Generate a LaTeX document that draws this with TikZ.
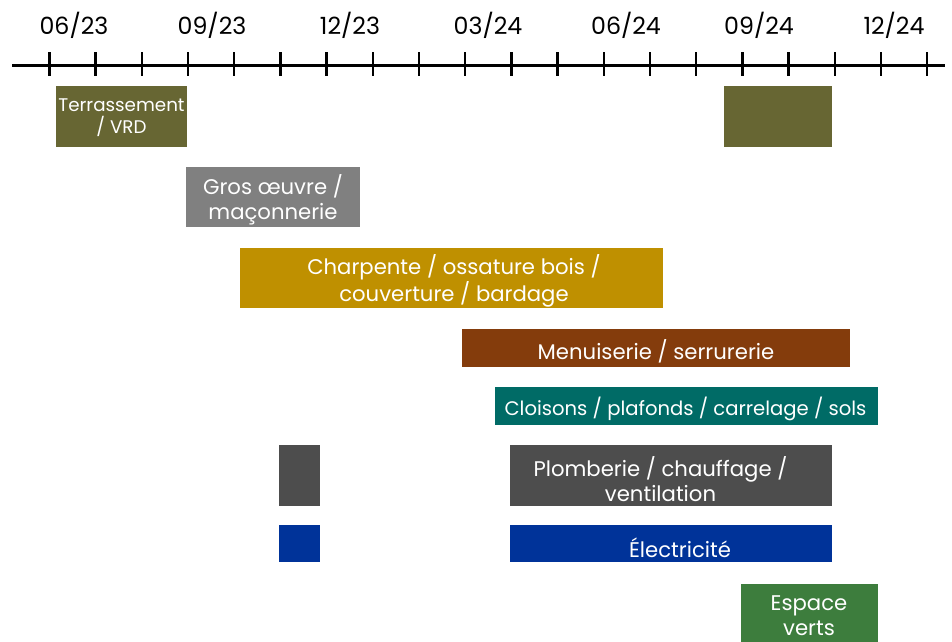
\documentclass[tikz,border=0pt]{standalone}
\usepackage{fontspec}
\setmainfont{Poppins}
\definecolor{olivec}{HTML}{676633}
\definecolor{grayc}{HTML}{808080}
\definecolor{goldc}{HTML}{BF9000}
\definecolor{brownc}{HTML}{843C0C}
\definecolor{tealc}{HTML}{006B66}
\definecolor{dgrayc}{HTML}{4D4D4D}
\definecolor{bluec}{HTML}{003399}
\definecolor{greenc}{HTML}{3D7D3D}
\begin{document}
\begin{tikzpicture}[x=1pt,y=-1pt,
  bar/.style={rectangle, inner sep=0pt, outer sep=0pt, draw=none, anchor=north west},
  lbl/.style={text=white, align=center, inner sep=0pt, font=\fontsize{21.2}{25}\selectfont},
  slbl/.style={text=white, align=center, inner sep=0pt, font=\fontsize{18.3}{22}\selectfont},
  axlbl/.style={text=black, inner sep=0pt, font=\fontsize{23.7}{26}\selectfont},
  tick/.style={line width=2.4pt, black}]
\useasboundingbox (0,0) rectangle (952,641);
\clip (0,0) rectangle (952,641);
% axis
\coordinate (axL) at (12,65);
\coordinate (axR) at (945,65);
\draw[line width=3pt] (axL) -- (axR);
\foreach \i in {0,...,19}{
  \coordinate (ta\i) at ({49.3+46.2*\i},52);
  \coordinate (tb\i) at ({49.3+46.2*\i},76);
  \draw[tick] (ta\i) -- (tb\i);
}
\node[axlbl] (m1) at (74,25) {06/23};
\node[axlbl] (m2) at (212,25) {09/23};
\node[axlbl] (m3) at (350,25) {12/23};
\node[axlbl] (m4) at (488,25) {03/24};
\node[axlbl] (m5) at (626,25) {06/24};
\node[axlbl] (m6) at (759,25) {09/24};
\node[axlbl] (m7) at (894,25) {12/24};
% bars
\node[bar, fill=olivec, minimum width=131pt, minimum height=61pt] (b1) at (56,86) {};
\node[bar, fill=olivec, minimum width=108pt, minimum height=61pt] (b1b) at (724,86) {};
\node[bar, fill=grayc, minimum width=174pt, minimum height=60pt] (b2) at (186,167) {};
\node[bar, fill=goldc, minimum width=423pt, minimum height=60pt] (b3) at (240,248) {};
\node[bar, fill=brownc, minimum width=388pt, minimum height=38pt] (b4) at (462,329) {};
\node[bar, fill=tealc, minimum width=383pt, minimum height=38pt] (b5) at (495,387) {};
\node[bar, fill=dgrayc, minimum width=41pt, minimum height=61pt] (b6a) at (279,445) {};
\node[bar, fill=dgrayc, minimum width=322pt, minimum height=61pt] (b6) at (510,445) {};
\node[bar, fill=bluec, minimum width=41pt, minimum height=37pt] (b7a) at (279,525) {};
\node[bar, fill=bluec, minimum width=322pt, minimum height=37pt] (b7) at (510,525) {};
\node[bar, fill=greenc, minimum width=137pt, minimum height=70pt] (b8) at (741,584) {};
% labels
\node[slbl] (l1) at (121.5,118) {Terrassement\\/ VRD};
\node[lbl] (l2) at (273,200) {Gros œuvre /\\maçonnerie};
\node[lbl] (l3) at (454,281) {Charpente / ossature bois /\\couverture / bardage};
\node[lbl] (l4) at (656,351) {Menuiserie / serrurerie};
\node[lbl, font=\fontsize{19.6}{24}\selectfont] (l5) at (685.5,409) {Cloisons / plafonds / carrelage / sols};
\node[lbl] (l6) at (660.5,479) {Plomberie / chauffage /\\ventilation};
\node[lbl] (l7) at (680,548) {Électricité};
\node[lbl] (l8) at (809,615.5) {Espace\\verts};
\end{tikzpicture}
\end{document}
